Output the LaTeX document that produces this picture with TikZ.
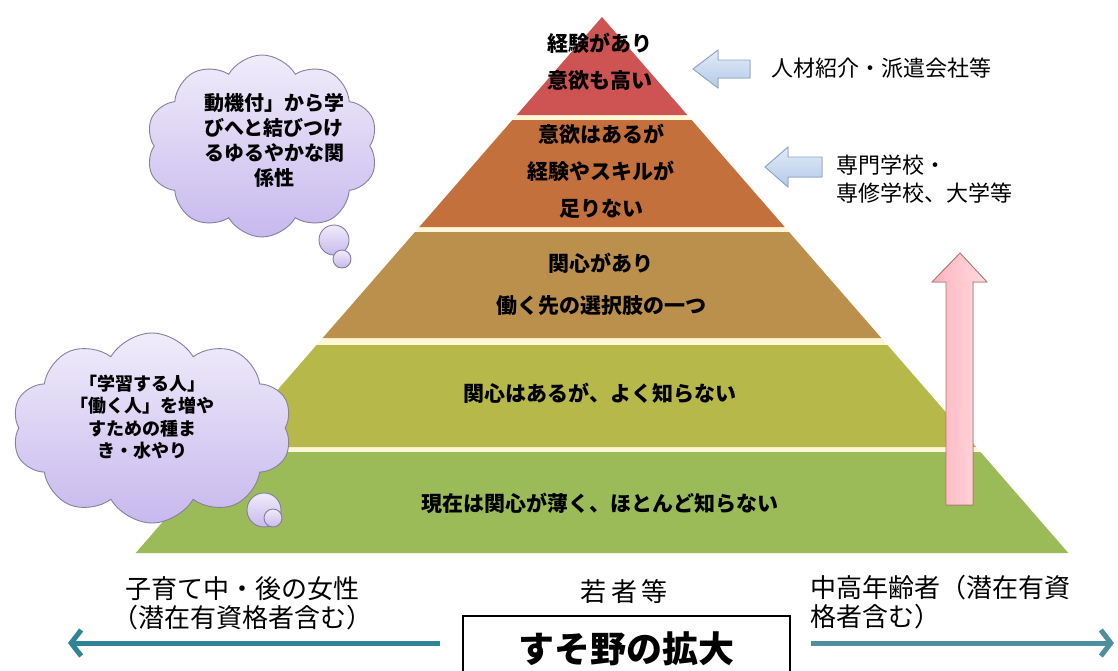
\documentclass[tikz,border=0pt]{standalone}
\usepackage{fontspec}
\newfontfamily\jp{Noto Sans CJK JP}
\usetikzlibrary{shapes.symbols,arrows.meta}
\definecolor{creamgap}{HTML}{FFF6D6}
\definecolor{bandred}{HTML}{CD5453}
\definecolor{bandorange}{HTML}{C4703D}
\definecolor{bandtan}{HTML}{BB8F4C}
\definecolor{bandolive}{HTML}{B6B94A}
\definecolor{bandgreen}{HTML}{9BBB59}
\definecolor{cloudline}{HTML}{85809E}
\definecolor{cloudtop}{HTML}{F0ECFA}
\definecolor{cloudbot}{HTML}{C7B9EE}
\definecolor{bluefillA}{HTML}{E2EBF7}
\definecolor{bluefillB}{HTML}{B3C9E8}
\definecolor{blueline}{HTML}{8AA6CC}
\definecolor{pinkA}{HTML}{FFB3BE}
\definecolor{pinkB}{HTML}{FFDCE0}
\definecolor{pinkline}{HTML}{B97474}
\definecolor{tealline}{HTML}{2F8597}
\definecolor{tealgray}{HTML}{4F8E9C}
\tikzset{
  bandtext/.style={font=\jp\bfseries\fontsize{21}{37}\selectfont, align=center, inner sep=0, text=black},
  sidetext/.style={font=\jp\fontsize{22}{28}\selectfont, align=left, inner sep=0, anchor=west},
  bottomtext/.style={font=\jp\fontsize{26}{29}\selectfont, inner sep=0},
  cloudbox/.style={cloud, cloud puffs=10, cloud puff arc=120, draw=cloudline, line width=0.9pt, top color=cloudtop, bottom color=cloudbot, inner sep=0},
  cloudtext/.style={font=\jp\bfseries, align=center, inner sep=0},
  bubble/.style={draw=cloudline, line width=0.9pt, top color=cloudtop, bottom color=cloudbot},
  blueshape/.style={draw=blueline, line width=0.9pt, top color=bluefillA, bottom color=bluefillB},
  pinkshape/.style={draw=pinkline, line width=0.9pt, left color=pinkA, right color=pinkB},
  spread/.style={line width=5pt, -{Straight Barb[length=10pt,width=26pt]}},
}
\begin{document}
\begin{tikzpicture}[x=1pt,y=-1pt]
\useasboundingbox[fill=white] (0,0) rectangle (1118,670);
% pyramid
\fill[creamgap] (602,17) -- (1068.3,553) -- (135.7,553) -- cycle;
\fill[bandred] (602,17) -- (687.3,115) -- (516.7,115) -- cycle;
\fill[bandorange] (512.4,120) -- (691.6,120) -- (784.7,227) -- (419.3,227) -- cycle;
\fill[bandtan] (415,232) -- (789,232) -- (881.3,338) -- (322.7,338) -- cycle;
\fill[bandolive] (316.6,345) -- (887.4,345) -- (976.1,447) -- (227.9,447) -- cycle;
\fill[bandgreen] (223.5,452) -- (980.5,452) -- (1068.3,553) -- (135.7,553) -- cycle;
\node[bandtext] (t1) at (600,62) {経験があり\\意欲も高い};
\node[bandtext] (t2) at (601,171) {意欲はあるが\\経験やスキルが\\足りない};
\node[bandtext, font=\jp\bfseries\fontsize{21}{42}\selectfont] (t3) at (601,284) {関心があり\\働く先の選択肢の一つ};
\node[bandtext] (t4) at (600,393) {関心はあるが、よく知らない};
\node[bandtext] (t5) at (600,503) {現在は関心が薄く、ほとんど知らない};
% blue arrows
\fill[blueshape] (693,69) -- (718,50) -- (718,60) -- (750,60) -- (750,78) -- (718,78) -- (718,88) -- cycle;
\fill[blueshape] (765,167) -- (788,147) -- (788,157) -- (822,157) -- (822,177) -- (788,177) -- (788,187) -- cycle;
\node[sidetext] (s1) at (771,68) {人材紹介・派遣会社等};
\node[sidetext] (s2) at (836,179) {専門学校・\\専修学校、大学等};
% pink up arrow
\fill[pinkshape] (960,253) -- (987,282) -- (973,282) -- (973,505) -- (946,505) -- (946,282) -- (932,282) -- cycle;
% clouds
\node[cloudbox, minimum width=232, minimum height=182, aspect=1.25] (cl1) at (262,146) {};
\fill[bubble] (334,240) circle (15);
\fill[bubble] (342,259) circle (9);
\node[cloudtext, font=\jp\bfseries\fontsize{20}{25}\selectfont] (cl1t) at (274,140) {動機付」から学\\びへと結びつけ\\るゆるやかな関\\係性};
\node[cloudbox, minimum width=280, minimum height=190, aspect=1.4] (cl2) at (152,428) {};
\fill[bubble] (264,510) circle (17);
\fill[bubble] (273,518) circle (9);
\node[cloudtext, font=\jp\bfseries\fontsize{18}{22.5}\selectfont] (cl2t) at (142,417) {「学習する人」\\「働く人」を増や\\すための種ま\\き・水やり};
% bottom labels
\node[bottomtext, align=center] (women) at (242,603) {子育て中・後の女性\\（潜在有資格者含む）};
\node[bottomtext] (young) at (624,592) {若\hspace{5pt}者\hspace{5pt}等};
\node[bottomtext, align=left, anchor=west] (elder) at (810,602) {中高年齢者（潜在有資\\格者含む）};
\node[font=\jp\bfseries\fontsize{36}{40}\selectfont, inner sep=0] (base) at (626,649) {すそ野の拡大};
\draw[line width=1.2pt] (463,675) -- (463,616) -- (790,616) -- (790,675);
\coordinate (lstart) at (440,643);
\coordinate (lend) at (68,643);
\coordinate (rstart) at (811,643);
\coordinate (rend) at (1114,643);
\draw[spread, tealline] (lstart) -- (lend);
\draw[spread, tealgray] (rstart) -- (rend);
\end{tikzpicture}
\end{document}
